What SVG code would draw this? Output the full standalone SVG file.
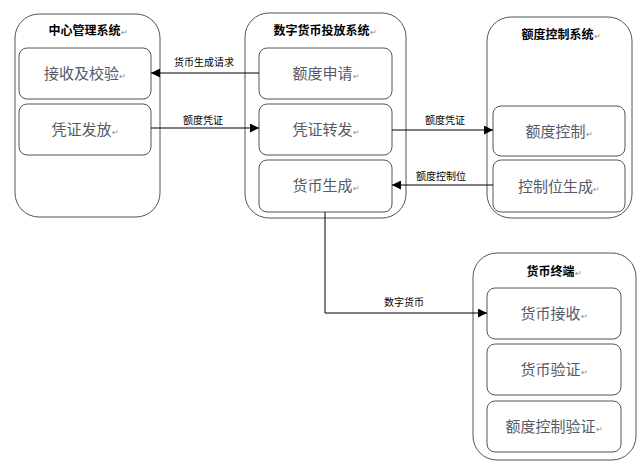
<svg xmlns="http://www.w3.org/2000/svg" width="641" height="466" viewBox="0 0 641 466">
<style>
.outer{fill:#fff;stroke:#555;stroke-width:1}
.inner{fill:#fff;stroke:#555;stroke-width:1}
.title{font-family:"Liberation Sans","Noto Sans CJK SC",sans-serif;font-size:12px;font-weight:bold;fill:#000;text-anchor:middle}
.item{font-family:"Liberation Serif","Noto Sans CJK SC",serif;font-size:15px;fill:#555a66;text-anchor:middle}
.lbl{font-family:"Liberation Sans","Noto Sans CJK SC",sans-serif;font-size:10px;fill:#000;text-anchor:middle}
.pm{font-size:8px;fill:#888;font-weight:normal}
.conn{fill:none;stroke:#000;stroke-width:1}
</style>
<defs>
<marker id="arr" viewBox="0 0 10 10" refX="10" refY="5" markerWidth="9" markerHeight="9" markerUnits="userSpaceOnUse" orient="auto">
<path d="M0,0 L10,5 L0,10 z" fill="#000"/>
</marker>
</defs>
<rect width="641" height="466" fill="#fff"/>
<g id="center-system">
<rect class="outer" x="15" y="14" width="145" height="203" rx="24"/>
<text class="title" x="88" y="35">中心管理系统<tspan class="pm">↵</tspan></text>
<g id="receive-verify">
<rect class="inner" x="19" y="48" width="132" height="51" rx="8"/>
<text class="item" x="85" y="79">接收及校验<tspan class="pm">↵</tspan></text>
</g>
<g id="voucher-issue">
<rect class="inner" x="19" y="104" width="132" height="51" rx="8"/>
<text class="item" x="85" y="135">凭证发放<tspan class="pm">↵</tspan></text>
</g>
</g>
<g id="issuance-system">
<rect class="outer" x="245" y="13" width="161" height="205" rx="24"/>
<text class="title" x="325" y="35">数字货币投放系统<tspan class="pm">↵</tspan></text>
<g id="quota-apply">
<rect class="inner" x="259" y="48" width="133" height="51" rx="8"/>
<text class="item" x="326" y="79">额度申请<tspan class="pm">↵</tspan></text>
</g>
<g id="voucher-forward">
<rect class="inner" x="259" y="104" width="133" height="51" rx="8"/>
<text class="item" x="326" y="135">凭证转发<tspan class="pm">↵</tspan></text>
</g>
<g id="currency-gen">
<rect class="inner" x="259" y="160" width="133" height="52" rx="8"/>
<text class="item" x="326" y="191">货币生成<tspan class="pm">↵</tspan></text>
</g>
</g>
<g id="quota-system">
<rect class="outer" x="487" y="17" width="145" height="201" rx="24"/>
<text class="title" x="561" y="39">额度控制系统<tspan class="pm">↵</tspan></text>
<g id="quota-control">
<rect class="inner" x="493" y="106" width="132" height="50" rx="8"/>
<text class="item" x="559" y="137">额度控制<tspan class="pm">↵</tspan></text>
</g>
<g id="control-bit-gen">
<rect class="inner" x="493" y="160" width="132" height="52" rx="8"/>
<text class="item" x="559" y="192">控制位生成<tspan class="pm">↵</tspan></text>
</g>
</g>
<g id="terminal">
<rect class="outer" x="473" y="253" width="163" height="207" rx="24"/>
<text class="title" x="554" y="276">货币终端<tspan class="pm">↵</tspan></text>
<g id="currency-receive">
<rect class="inner" x="487" y="288" width="134" height="51" rx="8"/>
<text class="item" x="554" y="319">货币接收<tspan class="pm">↵</tspan></text>
</g>
<g id="currency-verify">
<rect class="inner" x="487" y="344" width="134" height="51" rx="8"/>
<text class="item" x="554" y="375">货币验证<tspan class="pm">↵</tspan></text>
</g>
<g id="quota-verify">
<rect class="inner" x="487" y="401" width="134" height="51" rx="8"/>
<text class="item" x="554" y="432">额度控制验证<tspan class="pm">↵</tspan></text>
</g>
</g>
<g id="connectors">
<path class="conn" d="M259,73 L151,73" marker-end="url(#arr)"/>
<path class="conn" d="M151,128 L259,128" marker-end="url(#arr)"/>
<path class="conn" d="M392,130 L493,130" marker-end="url(#arr)"/>
<path class="conn" d="M493,185 L392,185" marker-end="url(#arr)"/>
<path class="conn" d="M325,212 L325,313 L487,313" marker-end="url(#arr)"/>
<text class="lbl" x="204" y="66">货币生成请求</text>
<text class="lbl" x="203" y="124">额度凭证</text>
<text class="lbl" x="445" y="124">额度凭证</text>
<text class="lbl" x="441" y="180">额度控制位</text>
<text class="lbl" x="404" y="306">数字货币</text>
</g>
</svg>
